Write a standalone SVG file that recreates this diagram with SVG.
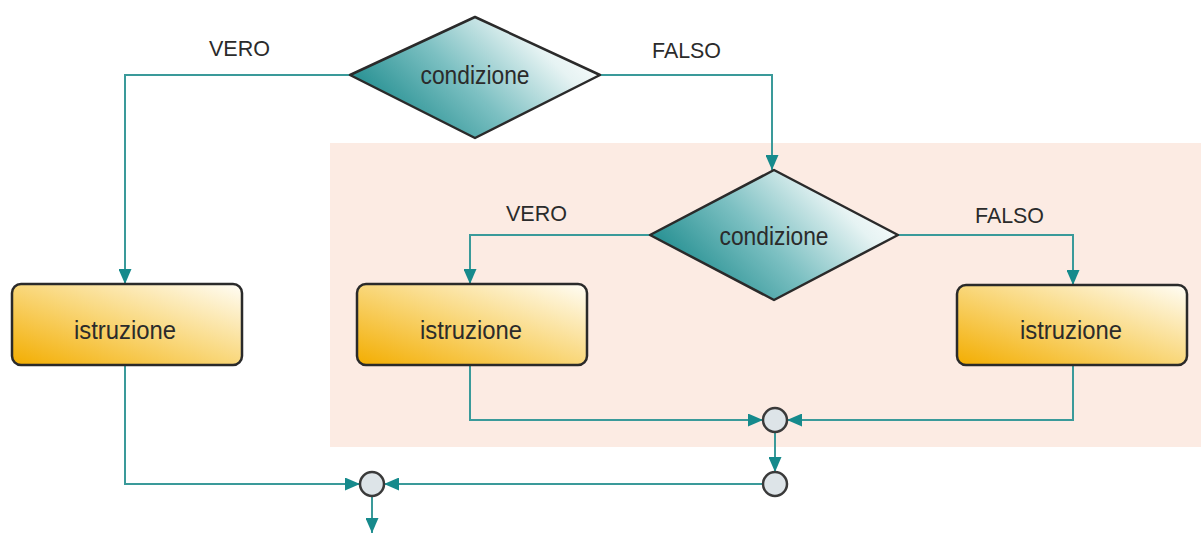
<svg xmlns="http://www.w3.org/2000/svg" width="1201" height="534" viewBox="0 0 1201 534">
  <defs>
    <linearGradient id="gDia" x1="0" y1="0.75" x2="1" y2="0.25">
      <stop offset="0" stop-color="#0f8385"/>
      <stop offset="0.45" stop-color="#7cc0c2"/>
      <stop offset="0.8" stop-color="#e6f3f3"/>
      <stop offset="1" stop-color="#ffffff"/>
    </linearGradient>
    <linearGradient id="gBox" x1="0" y1="1" x2="1" y2="0">
      <stop offset="0" stop-color="#f3ad00"/>
      <stop offset="0.5" stop-color="#f9d77a"/>
      <stop offset="1" stop-color="#fffdf6"/>
    </linearGradient>
    <marker id="arr" markerUnits="userSpaceOnUse" markerWidth="15" markerHeight="13" refX="15" refY="6.5" orient="auto">
      <path d="M0,0 L15,6.5 L0,13 z" fill="#168a8c"/>
    </marker>
    <style>
      .lbl { font-family: "Liberation Sans", Arial, sans-serif; font-size: 22px; fill: #2b2b2b; }
      .txt { font-family: "Liberation Sans", Arial, sans-serif; font-size: 26px; fill: #2b2b2b; text-anchor: middle; }
      .dia { fill: url(#gDia); stroke: #2a2a2a; stroke-width: 2.5; stroke-linejoin: round; }
      .box { fill: url(#gBox); stroke: #2a2a2a; stroke-width: 2.5; }
      .con { fill: none; stroke: #3a9a9a; stroke-width: 2; }
      .arw { marker-end: url(#arr); }
      .jn { fill: #dde4e8; stroke: #3a3a3a; stroke-width: 2.5; }
    </style>
  </defs>
  <rect x="0" y="0" width="1201" height="534" fill="#ffffff"/>
  <rect id="area" x="330" y="143" width="871" height="304" fill="#fcebe3"/>

  <g id="connectors">
    <path class="con arw" d="M350,75 H125 V284"/>
    <path class="con arw" d="M600,75 H772 V170"/>
    <path class="con arw" d="M650,235 H470 V284"/>
    <path class="con arw" d="M898,235 H1073 V285"/>
    <path class="con arw" d="M470,365 V420 H763"/>
    <path class="con arw" d="M1073,365 V420 H787"/>
    <path class="con arw" d="M775,432 V472"/>
    <path class="con arw" d="M763,484 H384"/>
    <path class="con arw" d="M125,365 V484 H360"/>
    <path class="con arw" d="M372,496 V533"/>
  </g>

  <g id="labels">
    <text class="lbl" x="209" y="56" textLength="61" lengthAdjust="spacingAndGlyphs">VERO</text>
    <text class="lbl" x="652" y="58" textLength="69" lengthAdjust="spacingAndGlyphs">FALSO</text>
    <text class="lbl" x="506" y="221" textLength="61" lengthAdjust="spacingAndGlyphs">VERO</text>
    <text class="lbl" x="975" y="223" textLength="69" lengthAdjust="spacingAndGlyphs">FALSO</text>
  </g>

  <g id="cond1">
    <path class="dia" d="M350,75 L475,17 L600,75 L475,138 Z"/>
    <text class="txt" x="475" y="84" textLength="109" lengthAdjust="spacingAndGlyphs">condizione</text>
  </g>
  <g id="cond2">
    <path class="dia" d="M650,235 L774,170 L898,235 L774,300 Z"/>
    <text class="txt" x="774" y="245" textLength="109" lengthAdjust="spacingAndGlyphs">condizione</text>
  </g>

  <g id="istr1">
    <rect class="box" x="12" y="284" width="230" height="81" rx="9"/>
    <text class="txt" x="125" y="339" textLength="102" lengthAdjust="spacingAndGlyphs">istruzione</text>
  </g>
  <g id="istr2">
    <rect class="box" x="357" y="284" width="230" height="81" rx="9"/>
    <text class="txt" x="471" y="339" textLength="102" lengthAdjust="spacingAndGlyphs">istruzione</text>
  </g>
  <g id="istr3">
    <rect class="box" x="957" y="285" width="230" height="80" rx="9"/>
    <text class="txt" x="1071" y="339" textLength="102" lengthAdjust="spacingAndGlyphs">istruzione</text>
  </g>

  <g id="join1"><circle class="jn" cx="775" cy="420" r="12"/></g>
  <g id="join2"><circle class="jn" cx="775" cy="484" r="12"/></g>
  <g id="join3"><circle class="jn" cx="372" cy="484" r="12"/></g>
</svg>
